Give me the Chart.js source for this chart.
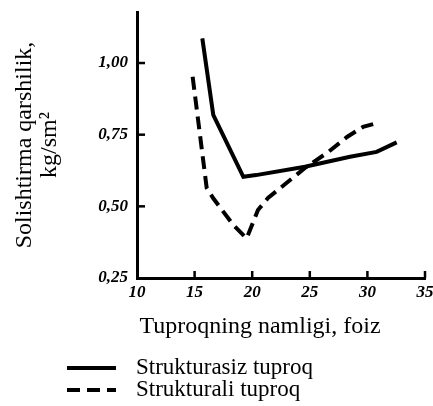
<!DOCTYPE html>
<html>
<head>
<meta charset="utf-8">
<script src="https://cdn.jsdelivr.net/npm/chart.js@4/dist/chart.umd.min.js"></script>
<style>
  html, body { margin: 0; padding: 0; background: #fff; }
  #wrap { width: 433px; height: 406px; }
</style>
</head>
<body>
<div id="wrap"><canvas id="c" width="433" height="406"></canvas></div>
<script>
// Soil moisture (%) vs. specific resistance (kg/sm²)
const structurelessX = [15.67, 16.62, 19.23, 20.33, 24.58, 28.49, 30.8, 32.54];
const structurelessY = [1.086, 0.819, 0.603, 0.609, 0.638, 0.673, 0.69, 0.723];

const structuredX = [14.83, 16.05, 16.62, 18.36, 19.52, 20.5, 21.37, 24.58, 26.58, 28.23, 29.62, 30.5];
const structuredY = [0.952, 0.564, 0.528, 0.435, 0.388, 0.487, 0.529, 0.634, 0.689, 0.742, 0.777, 0.787];

const seriesNames = ['Strukturasiz tuproq', 'Strukturali tuproq'];
const yTickValues = [0.25, 0.50, 0.75, 1.00];
const xTickValues = [10, 15, 20, 25, 30, 35];

const xTitle = 'Tuproqning namligi, foiz';
const yTitle = ['Solishtirma qarshilik,', 'kg/sm\u00B2'];

const toPoints = (xs, ys) => xs.map((x, i) => ({ x: x, y: ys[i] }));

// Short tick marks drawn inward from both axes, plus the legend under the axis title
const axisDecor = {
  id: 'axisDecor',
  afterDraw(chart) {
    const ctx = chart.ctx;
    const xs = chart.scales.x, ys = chart.scales.y;
    const area = chart.chartArea;
    ctx.save();
    ctx.strokeStyle = '#000';
    ctx.lineWidth = 2.5;
    ctx.setLineDash([]);
    ys.ticks.forEach(t => {
      if (t.value <= ys.min) return;
      const py = ys.getPixelForValue(t.value);
      ctx.beginPath(); ctx.moveTo(area.left, py); ctx.lineTo(area.left + 8, py); ctx.stroke();
    });
    xs.ticks.forEach(t => {
      if (t.value <= xs.min) return;
      const px = xs.getPixelForValue(t.value);
      ctx.beginPath(); ctx.moveTo(px, area.bottom); ctx.lineTo(px, area.bottom - 7); ctx.stroke();
    });

    // x axis title
    ctx.fillStyle = '#000';
    ctx.font = '24px "Liberation Serif"';
    ctx.textAlign = 'center';
    ctx.textBaseline = 'middle';
    ctx.fillText(xTitle, 260, 327);

    // legend
    ctx.font = '23px "Liberation Serif"';
    ctx.textAlign = 'left';
    chart.data.datasets.forEach((ds, i) => {
      const y = 368 + i * 22;
      ctx.save();
      ctx.lineWidth = ds.borderWidth;
      ctx.setLineDash(ds.borderDash || []);
      ctx.beginPath(); ctx.moveTo(67, y); ctx.lineTo(116, y); ctx.stroke();
      ctx.restore();
      ctx.fillText(ds.label, 136, y);
    });
    ctx.restore();
  }
};

const tickFont = { family: '"Liberation Serif"', size: 17, style: 'italic', weight: 'bold' };

const noEdgePadding = s => {
  s.paddingTop = 0; s.paddingBottom = 0; s.paddingLeft = 0; s.paddingRight = 0;
};

new Chart(document.getElementById('c'), {
  type: 'line',
  data: {
    datasets: [
      {
        label: seriesNames[0],
        data: toPoints(structurelessX, structurelessY),
        borderColor: '#000',
        borderWidth: 4,
        pointRadius: 0,
        tension: 0,
        fill: false
      },
      {
        label: seriesNames[1],
        data: toPoints(structuredX, structuredY),
        borderColor: '#000',
        borderWidth: 4,
        borderDash: [13, 7],
        pointRadius: 0,
        tension: 0,
        fill: false
      }
    ]
  },
  options: {
    responsive: false,
    animation: false,
    layout: { padding: { left: 0, right: 8, top: 12, bottom: 66 } },
    plugins: { legend: { display: false }, tooltip: { enabled: false } },
    scales: {
      x: {
        type: 'linear',
        min: 10,
        max: 35,
        afterBuildTicks: s => { s.ticks = xTickValues.map(v => ({ value: v })); },
        afterFit: s => { s.height = 62; noEdgePadding(s); },
        grid: { display: true, drawOnChartArea: false, drawTicks: false },
        border: { display: true, color: '#000', width: 3 },
        ticks: { color: '#000', font: tickFont, padding: 4, maxRotation: 0, autoSkip: false }
      },
      y: {
        type: 'linear',
        min: 0.25,
        max: 1.178,
        afterBuildTicks: s => { s.ticks = yTickValues.map(v => ({ value: v })); },
        afterFit: s => { s.width = 137; noEdgePadding(s); },
        grid: { display: true, drawOnChartArea: false, drawTicks: false },
        border: { display: true, color: '#000', width: 3 },
        ticks: {
          color: '#000',
          font: tickFont,
          padding: 9,
          autoSkip: false,
          callback: v => v.toFixed(2).replace('.', ',')
        },
        title: {
          display: true,
          text: yTitle,
          color: '#000',
          font: { family: '"Liberation Serif"', size: 24, lineHeight: 1.05 },
          padding: { top: 12, bottom: 0 }
        }
      }
    }
  },
  plugins: [axisDecor]
});
</script>
</body>
</html>
